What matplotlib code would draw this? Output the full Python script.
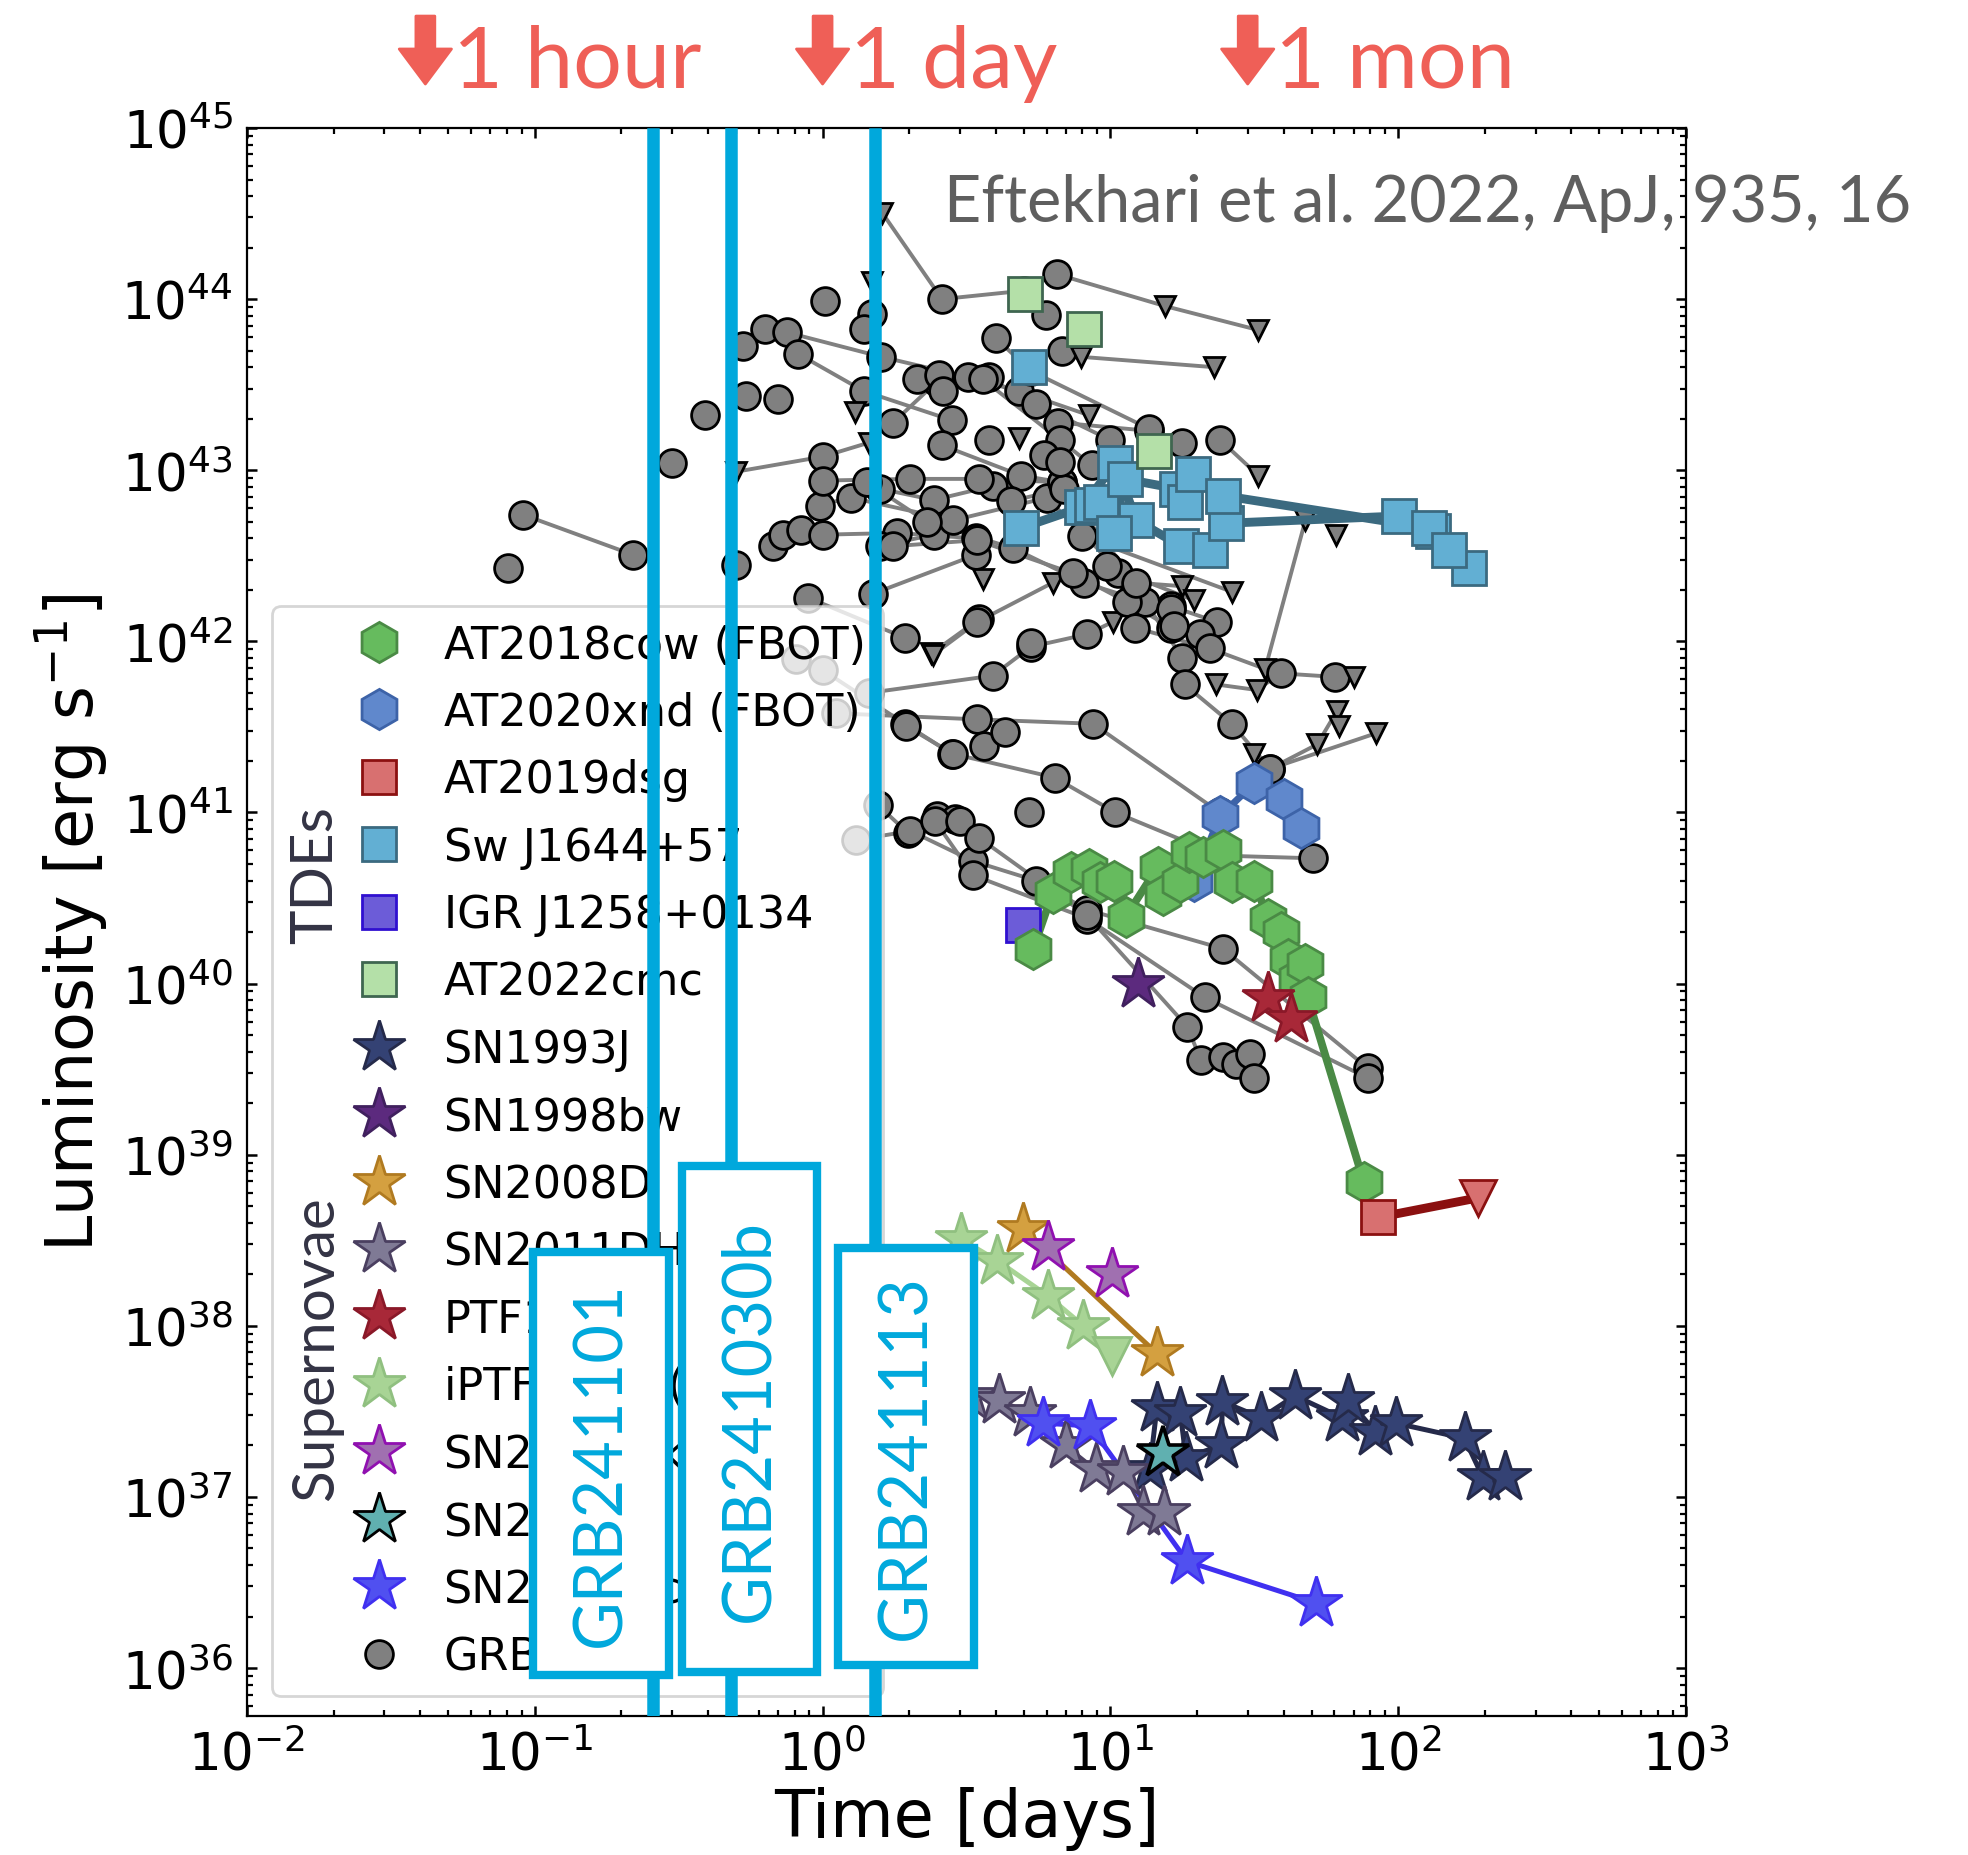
import matplotlib
matplotlib.use('Agg')
import matplotlib.pyplot as plt
from matplotlib.lines import Line2D
from matplotlib.patches import Rectangle
from matplotlib.ticker import LogLocator, NullFormatter

plt.rcParams['font.family'] = ['DejaVu Sans']

# ---------------- data (time in days, luminosity in erg/s) ----------------
# GRB light curves: (t, L, upper_limit)
grb_tracks = [
    [(0.081, 2.7e42, 0)],
    [(0.091, 5.5e42, 0), (0.22, 3.2e42, 0)],
    [(0.30, 1.1e43, 0)],
    [(0.39, 2.1e43, 0)],
    [(0.50, 2.8e42, 0)],
    [(0.50, 9.8e42, 1), (1.0, 1.2e43, 0), (1.45, 1.45e43, 1)],
    [(0.53, 5.3e43, 0)],
    [(0.63, 6.7e43, 0)],
    [(0.75, 6.4e43, 0), (1.6, 4.6e43, 0), (3.2, 3.5e43, 0), (4.8, 2.9e43, 0), (8.4, 2.1e43, 1)],
    [(0.82, 4.8e43, 0), (1.39, 2.9e43, 0), (2.81, 1.96e43, 0)],
    [(1.30, 2.2e43, 1)],
    [(0.54, 2.7e43, 0)],
    [(0.70, 2.6e43, 0)],
    [(0.67, 3.6e42, 0), (0.73, 4.2e42, 0), (0.84, 4.5e42, 0), (1.0, 4.2e42, 0), (1.81, 4.3e42, 0), (3.4, 4.0e42, 0)],
    [(0.98, 6.2e42, 0), (1.58, 7.8e42, 0), (2.43, 6.7e42, 0), (3.9, 8.1e42, 0)],
    [(1.0, 8.7e42, 0), (2.02, 8.9e42, 0), (3.5, 8.9e42, 0), (6.8, 8.5e42, 0)],
    [(1.50, 1.9e42, 0), (3.4, 3.2e42, 0), (3.6, 2.3e42, 1)],
    [(1.58, 3.6e42, 0), (2.43, 4.2e42, 0)],
    [(0.89, 1.8e42, 0), (1.93, 1.05e42, 0)],
    [(2.39, 8.5e41, 1), (3.5, 1.35e42, 0)],
    [(0.81, 7.9e41, 0), (1.0, 6.8e41, 0), (1.93, 3.3e41, 0), (2.81, 2.2e41, 0)],
    [(1.45, 5.0e41, 0), (3.9, 6.3e41, 0), (5.3, 9.3e41, 0), (8.3, 1.1e42, 0), (10.2, 1.3e42, 1)],
    [(1.11, 3.8e41, 0), (3.45, 3.5e41, 0), (8.7, 3.3e41, 0), (24.0, 1.0e41, 0)],
    [(1.56, 1.1e41, 0), (1.98, 7.6e40, 0), (2.5, 9.5e40, 0), (2.88, 9.1e40, 0)],
    [(1.31, 6.9e40, 0), (2.02, 7.8e40, 0), (3.33, 5.2e40, 0), (5.5, 4.0e40, 0), (8.3, 2.7e40, 0),
     (24.6, 1.6e40, 0), (78.5, 3.2e39, 0)],
    [(2.46, 8.9e40, 0), (3.33, 4.3e40, 0), (8.3, 2.4e40, 0), (21.3, 8.3e39, 0), (78.5, 2.8e39, 0)],
    [(3.0, 8.9e40, 0), (3.5, 7.1e40, 0), (8.3, 2.5e40, 0), (18.5, 5.6e39, 0), (20.6, 3.6e39, 0),
     (24.6, 3.7e39, 0), (27.4, 3.4e39, 0), (30.5, 3.9e39, 0), (31.6, 2.8e39, 0)],
    [(1.95, 3.2e41, 0), (2.84, 2.2e41, 0), (6.4, 1.6e41, 0), (10.4, 1.0e41, 0), (24.0, 5.6e40, 0), (50.4, 5.4e40, 0)],
    [(3.64, 2.45e41, 0), (4.3, 2.95e41, 0)],
    [(2.41, 8.3e41, 1), (3.45, 1.3e42, 0), (6.3, 2.2e42, 1)],
    [(1.26, 6.9e42, 0), (2.85, 5.1e42, 0), (6.0, 6.9e42, 0), (12.2, 2.1e42, 0), (16.3, 1.6e42, 0), (23.4, 1.3e42, 0)],
    [(1.43, 8.5e42, 0), (2.3, 5.0e42, 0), (4.6, 3.5e42, 0), (8.1, 2.2e42, 0), (13.2, 1.7e42, 0),
     (17.8, 8.0e41, 0), (18.1, 5.6e41, 0), (26.4, 3.3e41, 0), (35.9, 1.8e41, 0), (52.3, 2.5e41, 1), (61.2, 3.9e41, 1)],
    [(1.76, 3.6e42, 0), (3.44, 3.9e42, 0), (7.4, 2.5e42, 0), (11.4, 1.7e42, 0), (16.3, 1.2e42, 0), (20.5, 1.1e42, 0)],
    [(1.76, 1.9e43, 0), (2.5, 3.3e43, 0), (3.8, 3.5e43, 0), (6.6, 1.9e43, 0), (13.6, 1.7e43, 0), (17.8, 1.45e43, 0)],
    [(2.6, 1.4e43, 0), (4.9, 9.3e42, 0), (6.8, 8.5e42, 0), (10.6, 2.5e42, 0), (12.2, 1.2e42, 0),
     (22.1, 9.1e41, 0), (34.5, 6.9e41, 1), (47.6, 5.1e42, 1)],
    [(1.61, 3.2e44, 1), (2.6, 1.0e44, 0), (5.0, 1.12e44, 0)],
    [(6.5, 1.4e44, 0), (15.5, 9.1e43, 1), (32.6, 6.6e43, 1)],
    [(6.8, 5.0e43, 0), (7.9, 4.6e43, 1), (23.0, 4.0e43, 1)],
    [(5.96, 8.1e43, 0)],
    [(4.0, 5.9e43, 0), (5.3, 3.8e43, 0), (13.6, 1.75e43, 0)],
    [(1.48, 1.26e44, 1), (1.48, 8.2e43, 0)],
    [(1.39, 6.7e43, 0)],
    [(1.02, 9.7e43, 0)],
    [(2.12, 3.4e43, 0), (3.6, 3.4e43, 0), (6.7, 1.5e43, 0), (8.6, 1.07e43, 0)],
    [(2.53, 3.6e43, 0)],
    [(2.63, 2.9e43, 0)],
    [(3.8, 1.5e43, 0)],
    [(23.3, 5.6e41, 1), (32.2, 5.2e41, 1), (39.2, 6.5e41, 0), (60.2, 6.2e41, 0), (70.0, 6.2e41, 1)],
    [(5.5, 2.45e43, 0), (10.0, 1.5e43, 0)],
    [(4.5, 6.6e42, 0), (6.9, 7.8e42, 0), (12.3, 2.2e42, 0), (17.8, 2.1e42, 1)],
    [(5.9, 1.23e43, 0), (6.7, 1.12e43, 0), (9.7, 2.75e42, 0), (19.5, 1.74e42, 1)],
    [(8.0, 4.1e42, 0), (26.4, 1.95e42, 1)],
    [(24.1, 1.5e43, 0), (32.7, 9.3e42, 1)],
    [(4.8, 1.55e43, 1)],
    [(5.2, 1.0e41, 0)],
    [(60.7, 4.2e42, 1)],
    [(62.2, 3.2e41, 1)],
    [(35.9, 1.8e41, 0), (83.6, 2.9e41, 1)],
    [(31.6, 2.2e41, 1)],
    [(5.3, 9.8e41, 0)],
    [(16.2, 1.55e42, 0), (16.7, 1.23e42, 0)],
]

# TDEs / FBOTs
cow_t = [5.4, 6.3, 7.3, 8.4, 9.2, 10.3, 11.3, 14.6, 15.2, 17.5, 18.8, 20.9, 24.6, 26.4,
         31.6, 35.2, 39.1, 41.3, 44.4, 47.6, 48.5, 76]
cow_L = [1.6e40, 3.4e40, 4.5e40, 4.7e40, 3.9e40, 4.0e40, 2.45e40, 4.8e40, 3.3e40, 3.9e40,
         5.9e40, 5.5e40, 6.0e40, 3.9e40, 4.0e40, 2.4e40, 2.0e40, 1.4e40, 1.07e40, 1.3e40, 8.3e39, 6.9e38]
xnd_t = [19.5, 24.0, 31.6, 40.1, 46.0]
xnd_L = [4.0e40, 9.5e40, 1.48e41, 1.2e41, 8.1e40]
dsg_t = [85]
dsg_L = [4.3e38]
dsg_ul_t = [190]
dsg_ul_L = [5.6e38]
swj_t_a = [4.9, 8.0, 10.4, 12.3, 17.6, 22.2, 25.2, 100.7, 132, 176]
swj_L_a = [4.6e42, 6.1e42, 1.1e43, 5.1e42, 3.6e42, 3.4e42, 4.9e42, 5.4e42, 4.4e42, 2.7e42]
swj_t_b = [8.6, 9.3, 10.3, 11.2, 17.0, 18.2, 19.4, 24.7, 128, 150]
swj_L_b = [6.3e42, 6.5e42, 4.3e42, 8.9e42, 7.8e42, 6.5e42, 9.5e42, 7.1e42, 4.6e42, 3.4e42]
swj_t_c = [5.2]
swj_L_c = [4.0e43]
igr_t = [4.97]
igr_L = [2.2e40]
cmc_t = [5.05, 8.1, 14.2]
cmc_L = [1.07e44, 6.7e43, 1.3e43]

# Supernovae
sn93j_t = [13.7, 14.5, 17.5, 18.3, 24.3, 24.5, 33.5, 43.8, 63.8, 66.9, 83.4, 98, 170, 197, 235]
sn93j_L = [1.46e37, 3.3e37, 3.1e37, 1.7e37, 2.0e37, 3.6e37, 2.9e37, 3.9e37, 2.9e37, 3.7e37,
           2.4e37, 2.7e37, 2.2e37, 1.3e37, 1.3e37]
sn98bw_t = [12.5]
sn98bw_L = [1.0e40]
sn08d_t = [4.98, 14.5]
sn08d_L = [3.7e38, 6.9e37]
sn11dh_t = [3.25, 4.11, 5.25, 7.0, 8.9, 11.1, 13.0, 15.3]
sn11dh_L = [3.9e37, 3.7e37, 3.1e37, 2.0e37, 1.45e37, 1.4e37, 8.2e36, 8.2e36]
ptf_t = [35.2, 42.3]
ptf_L = [8.2e39, 6.2e39]
iptf_t = [3.03, 4.05, 6.05, 8.05]
iptf_L = [3.2e38, 2.4e38, 1.5e38, 1.0e38]
iptf_ul_t = [10.1]
iptf_ul_L = [6.7e37]
sn17iuk_t = [6.05, 10.1]
sn17iuk_L = [2.9e38, 2.0e38]
sn20oi_t = [15.2]
sn20oi_L = [1.8e37]
sn18ivc_t = [5.83, 8.5, 18.5, 51.9]
sn18ivc_L = [2.7e37, 2.6e37, 4.2e36, 2.4e36]

grb_lines = [0.257, 0.479, 1.52]
grb_names = ['GRB241101', 'GRB241030b', 'GRB241113']
# label boxes in axes fraction: (x0, y0, x1, y1)
grb_boxes = [(0.199, 0.0261, 0.2933, 0.2924),
             (0.3020, 0.0277, 0.3962, 0.3462),
             (0.4110, 0.0324, 0.5052, 0.2948)]

marks_t = [1 / 24., 1.0, 30.0]
marks_txt = ['1 hour', '1 day', '1 mon']

# ---------------- figure ----------------
fig = plt.figure(figsize=(9.84, 9.28), dpi=200)
ax = fig.add_axes([0.1255, 0.0749, 0.7312, 0.8556])
ax.set_xscale('log')
ax.set_yscale('log')

gray = '#808080'
for tr in grb_tracks:
    t = [p[0] for p in tr]
    L = [p[1] for p in tr]
    if len(tr) > 1:
        ax.plot(t, L, '-', color=gray, lw=1.4, zorder=2)
for tr in grb_tracks:
    td = [p[0] for p in tr if not p[2]]
    Ld = [p[1] for p in tr if not p[2]]
    tu = [p[0] for p in tr if p[2]]
    Lu = [p[1] for p in tr if p[2]]
    ax.plot(td, Ld, 'o', ms=10, mfc=gray, mec='k', mew=1.0, zorder=3)
    ax.plot(tu, Lu, 'v', ms=7.5, mfc=gray, mec='k', mew=1.0, zorder=3)


def series(t, L, marker, fc, ec, ms, lc=None, lw=0, mew=1.0, z=4):
    if lc is not None:
        ax.plot(t, L, '-', color=lc, lw=lw, zorder=z)
    if marker != 'none':
        ax.plot(t, L, marker, ms=ms, mfc=fc, mec=ec, mew=mew, ls='none', zorder=z + 0.1)


# TDEs
series(swj_t_a, swj_L_a, 's', '#62afd3', '#3b6a80', 12.5, '#3b6a80', 3.2)
series(swj_t_b, swj_L_b, 's', '#62afd3', '#3b6a80', 12.5, '#3b6a80', 3.2)
series(swj_t_c, swj_L_c, 's', '#62afd3', '#3b6a80', 12.5)
series(cmc_t, cmc_L, 's', '#b4e0a8', '#3f6650', 12.5)
series(igr_t, igr_L, 's', '#6c5cd8', '#3010d0', 12)
series(xnd_t, xnd_L, 'h', '#6088cc', '#3d63a8', 14.5, '#3d63a8', 2.5)
series(cow_t, cow_L, 'h', '#66bb5e', '#4a8a45', 14.5, '#4a8a45', 2.8)
ax.plot(dsg_t + dsg_ul_t, dsg_L + dsg_ul_L, '-', color='#8b1010', lw=3.2, zorder=4)
series(dsg_t, dsg_L, 's', '#d87070', '#8b1010', 12)
series(dsg_ul_t, dsg_ul_L, 'v', '#d87070', '#8b1010', 13)

# Supernovae
star = 19.5
series(sn93j_t, sn93j_L, '*', '#344274', '#252a4a', star, '#252a4a', 1.8)
series(sn98bw_t, sn98bw_L, '*', '#5c2a7e', '#40205e', star)
series(iptf_t + iptf_ul_t, iptf_L + iptf_ul_L, 'none', 'none', 'none', 1, '#a8d495', 1.8)
series(iptf_t, iptf_L, '*', '#a8d495', '#90c080', star)
series(iptf_ul_t, iptf_ul_L, 'v', '#a8d495', '#90c080', 14)
series(sn08d_t, sn08d_L, '*', '#d4a040', '#b07a20', star, '#b07a20', 1.8)
series(sn11dh_t, sn11dh_L, '*', '#7f7a95', '#4a3f60', star, '#4a3f60', 1.2)
series(ptf_t, ptf_L, '*', '#a82838', '#8a1828', star)
series(sn17iuk_t, sn17iuk_L, '*', '#a070b0', '#9010b0', star)
series(sn18ivc_t, sn18ivc_L, '*', '#5050f0', '#4030f0', star, '#4030f0', 1.8)
series(sn20oi_t, sn20oi_L, '*', '#60b0b0', 'k', star, mew=1.3)

ax.set_xlim(1e-2, 1e3)
ax.set_ylim(10 ** 35.72, 1e45)
ax.xaxis.set_minor_locator(LogLocator(base=10, subs=range(2, 10), numticks=100))
ax.yaxis.set_minor_locator(LogLocator(base=10, subs=range(2, 10), numticks=100))
ax.yaxis.set_major_locator(LogLocator(base=10, numticks=100))
ax.xaxis.set_minor_formatter(NullFormatter())
ax.yaxis.set_minor_formatter(NullFormatter())
ax.tick_params(which='both', direction='in', top=True, right=True)
ax.tick_params(which='major', length=3.6, width=0.9, labelsize=18.5, pad=5)
ax.tick_params(which='minor', length=2.0, width=0.8)
ax.set_xlabel('Time [days]', fontsize=23.5, labelpad=2)
ax.set_ylabel('Luminosity [erg s$^{-1}$]', fontsize=23.5)

# legend
handles = [
    Line2D([], [], ls='none', marker='h', ms=14.5, mfc='#66bb5e', mec='#4a8a45', label='AT2018cow (FBOT)'),
    Line2D([], [], ls='none', marker='h', ms=14.5, mfc='#6088cc', mec='#3d63a8', label='AT2020xnd (FBOT)'),
    Line2D([], [], ls='none', marker='s', ms=12, mfc='#d87070', mec='#8b1010', label='AT2019dsg'),
    Line2D([], [], ls='none', marker='s', ms=12, mfc='#62afd3', mec='#3b6a80', label='Sw J1644+57'),
    Line2D([], [], ls='none', marker='s', ms=12, mfc='#6c5cd8', mec='#3010d0', label='IGR J1258+0134'),
    Line2D([], [], ls='none', marker='s', ms=12, mfc='#b4e0a8', mec='#3f6650', label='AT2022cmc'),
    Line2D([], [], ls='none', marker='*', ms=star, mfc='#344274', mec='#252a4a', label='SN1993J'),
    Line2D([], [], ls='none', marker='*', ms=star, mfc='#5c2a7e', mec='#40205e', label='SN1998bw'),
    Line2D([], [], ls='none', marker='*', ms=star, mfc='#d4a040', mec='#b07a20', label='SN2008D'),
    Line2D([], [], ls='none', marker='*', ms=star, mfc='#7f7a95', mec='#4a3f60', label='SN2011DH'),
    Line2D([], [], ls='none', marker='*', ms=star, mfc='#a82838', mec='#8a1828', label='PTF11qcj'),
    Line2D([], [], ls='none', marker='*', ms=star, mfc='#a8d495', mec='#90c080', label='iPTF17cw (mm)'),
    Line2D([], [], ls='none', marker='*', ms=star, mfc='#a070b0', mec='#9010b0', label='SN2017iuk'),
    Line2D([], [], ls='none', marker='*', ms=star, mfc='#60b0b0', mec='k', label='SN2020oi'),
    Line2D([], [], ls='none', marker='*', ms=star, mfc='#5050f0', mec='#4030f0', label='SN2018ivc'),
    Line2D([], [], ls='none', marker='o', ms=10, mfc=gray, mec='k', label='GRBs'),
]
leg = ax.legend(handles=handles, loc='lower left', bbox_to_anchor=(0.0174, 0.0129),
                borderaxespad=0, fontsize=16, handlelength=4.02, handletextpad=-0.55,
                labelspacing=0.55, borderpad=0.39, framealpha=0.8)

ax.text(0.048, 0.530, 'TDEs', rotation=90, transform=ax.transAxes, ha='center', va='center',
        fontsize=21, color='#333344', family=['Lato', 'DejaVu Sans'], zorder=6)
ax.text(0.048, 0.232, 'Supernovae', rotation=90, transform=ax.transAxes, ha='center', va='center',
        fontsize=21, color='#333344', family=['Lato', 'DejaVu Sans'], zorder=6)

# GRB markers: vertical lines + labelled boxes
cyan = '#00a8dc'
for x in grb_lines:
    ax.axvline(x, ymin=0.0025, ymax=0.996, color=cyan, lw=4.5, zorder=7)
for (x0, y0, x1, y1), name in zip(grb_boxes, grb_names):
    ax.add_patch(Rectangle((x0, y0), x1 - x0, y1 - y0, transform=ax.transAxes,
                           fc='white', ec=cyan, lw=3, zorder=8))
    ax.text((x0 + x1) / 2, (y0 + y1) / 2, name, transform=ax.transAxes, rotation=90,
            ha='center', va='center', fontsize=24, color=cyan,
            family=['Lato', 'DejaVu Sans'], zorder=9)

# time marks on top
red = '#ef5f57'
for t, s in zip(marks_t, marks_txt):
    ax.annotate('', xy=(t, 0.9542), xycoords=('data', 'figure fraction'),
                xytext=(t, 0.9908), textcoords=('data', 'figure fraction'),
                arrowprops=dict(arrowstyle='simple,head_length=0.63,head_width=0.94,tail_width=0.34',
                                color=red, shrinkA=0, shrinkB=0, mutation_scale=20),
                annotation_clip=False)
    ax.annotate(s, xy=(t, 0.9526), xycoords=('data', 'figure fraction'), xytext=(10, 0),
                textcoords='offset points', ha='left', va='baseline', fontsize=31, color=red,
                family=['Lato', 'DejaVu Sans'], annotation_clip=False)

fig.text(0.4797, 0.8906, 'Eftekhari et al. 2022, ApJ, 935, 16', ha='left', va='center',
         fontsize=23.3, color='#5f5f5f', family=['Lato', 'DejaVu Sans'])

fig.savefig('out.png', dpi=200)
